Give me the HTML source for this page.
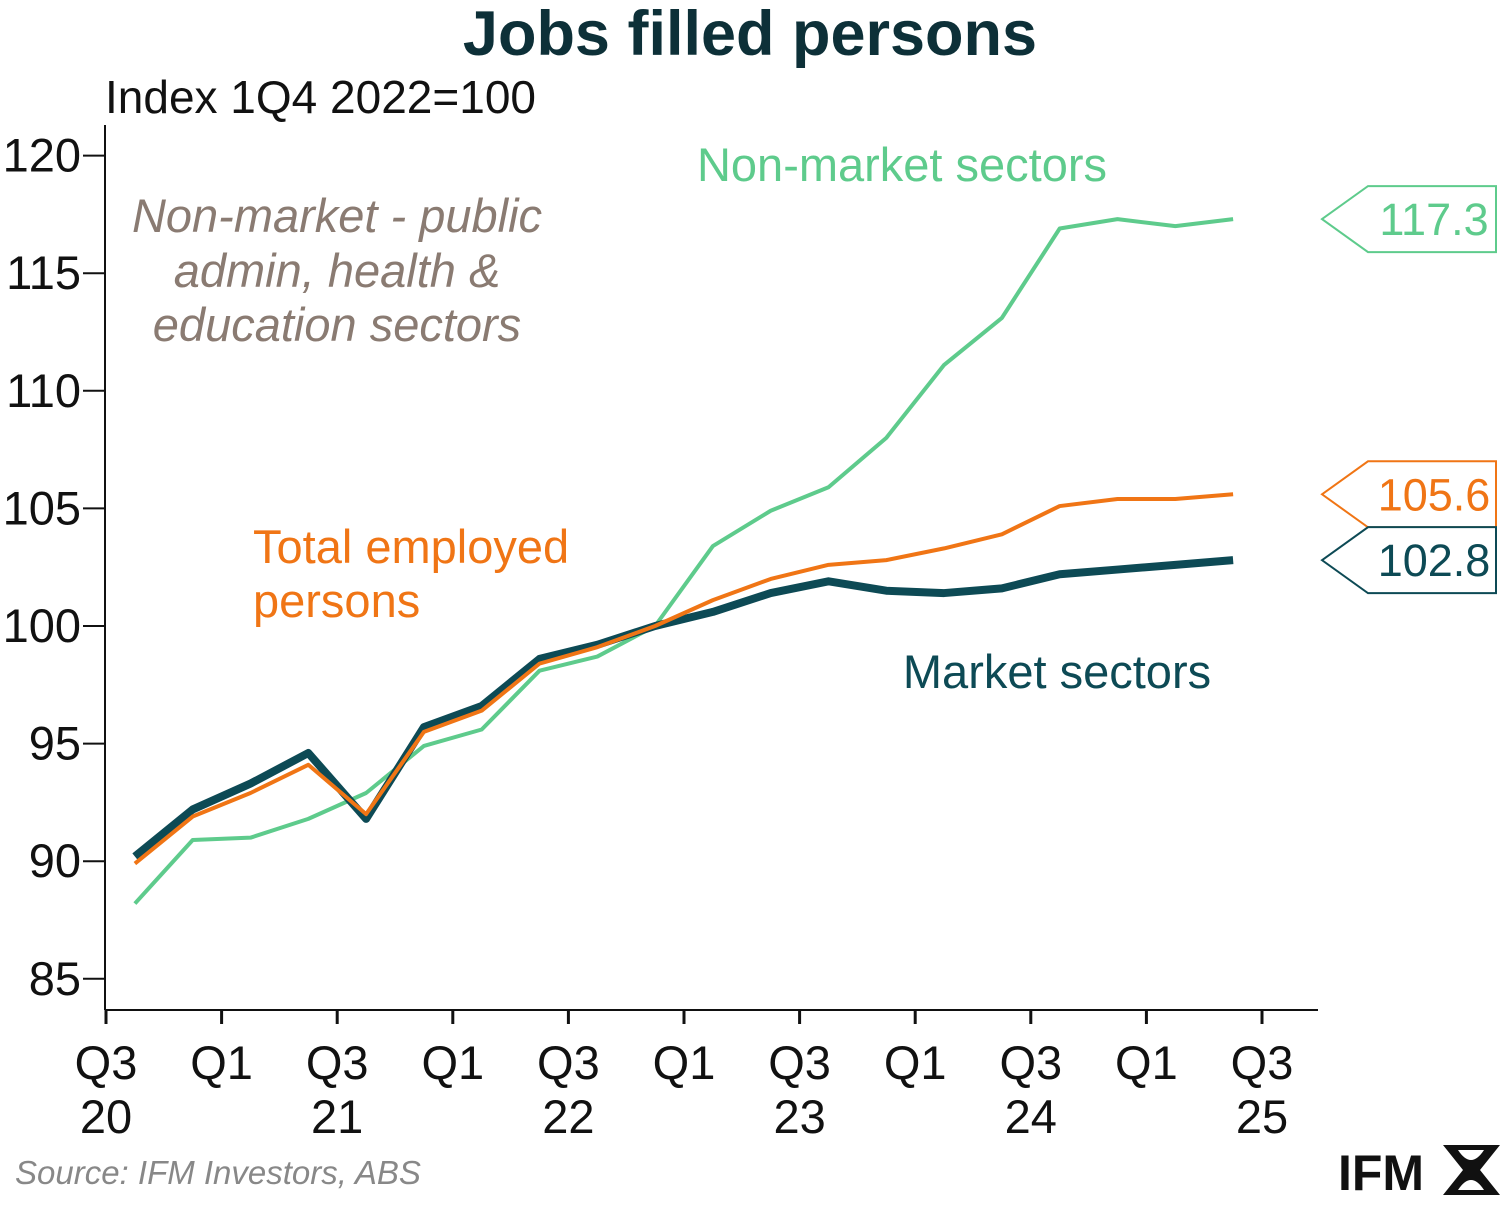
<!DOCTYPE html>
<html><head><meta charset="utf-8"><style>
body{margin:0;background:#fff;}
svg{display:block;font-family:"Liberation Sans",Arial,sans-serif;}
</style></head><body>
<svg width="1501" height="1205" viewBox="0 0 1501 1205" id="chart">
<text x="750" y="55" text-anchor="middle" font-size="63" font-weight="bold" fill="#0d3038">Jobs filled persons</text>
<text x="105" y="113" font-size="46" fill="#111">Index 1Q4 2022=100</text>
<g id="axes"></g>
<g id="series"></g>
<text x="902" y="181" text-anchor="middle" font-size="47" fill="#5ecb8c">Non-market sectors</text>
<g font-size="47" font-style="italic" fill="#8a7b72" text-anchor="middle">
<text x="337" y="232">Non-market - public</text>
<text x="337" y="287">admin, health &amp;</text>
<text x="337" y="341">education sectors</text></g>
<g font-size="47" fill="#f07515">
<text x="253" y="563">Total employed</text><text x="253" y="617">persons</text></g>
<text x="1057" y="688" text-anchor="middle" font-size="47" fill="#0d4a55">Market sectors</text>
<g id="callouts"></g>
<text x="15" y="1184" font-size="33" font-style="italic" fill="#888">Source: IFM Investors, ABS</text>
<g>
<text x="1338" y="1190" font-size="50" font-weight="bold" fill="#111">IFM</text>
<path d="M1443 1145 h57 l-20 25 l20 25 h-57 l20 -25 z" fill="#111"/>
<path d="M1458 1150 q13 20 26 0 z M1458 1190 q13 -20 26 0 z" fill="#fff"/>
</g>
</svg>
<script>
const quarters=["Q3 20","Q4 20","Q1 21","Q2 21","Q3 21","Q4 21","Q1 22","Q2 22","Q3 22","Q4 22","Q1 23","Q2 23","Q3 23","Q4 23","Q1 24","Q2 24","Q3 24","Q4 24","Q1 25","Q2 25"];
const marketSectors=[90.2,92.2,93.3,94.6,91.8,95.7,96.6,98.6,99.2,100,100.6,101.4,101.9,101.5,101.4,101.6,102.2,102.4,102.6,102.8];
const totalEmployed=[89.9,91.9,92.9,94.1,92.0,95.5,96.4,98.4,99.1,100,101.1,102.0,102.6,102.8,103.3,103.9,105.1,105.4,105.4,105.6];
const nonMarket=[88.2,90.9,91.0,91.8,92.9,94.9,95.6,98.1,98.7,100,103.4,104.9,105.9,108.0,111.1,113.1,116.9,117.3,117.0,117.3];
const yTicks=[85,90,95,100,105,110,115,120];
const xTickTop=["Q3","Q1","Q3","Q1","Q3","Q1","Q3","Q1","Q3","Q1","Q3"];
const xTickBottom=["20","","21","","22","","23","","24","","25"];
const NS="http://www.w3.org/2000/svg";
const y=v=>626-(v-100)*23.52;
const x=i=>106+57.8*(i+0.5);
const xt=j=>106+115.6*j;
function mk(tag,attrs,parent){const e=document.createElementNS(NS,tag);for(const k in attrs)e.setAttribute(k,attrs[k]);parent.appendChild(e);return e;}
const axes=document.getElementById('axes');
let a=mk('line',{x1:105,y1:125,x2:105,y2:1010,stroke:'#111','stroke-width':2},axes);


a=mk('line',{x1:105,y1:1010,x2:1318,y2:1010,stroke:'#111','stroke-width':2},axes);


yTicks.forEach(v=>{
 const t=mk('line',{x1:83,y1:y(v),x2:105,y2:y(v),stroke:'#111','stroke-width':2},axes);
 
 
 const l=mk('text',{x:81,y:y(v)+16,'text-anchor':'end','font-size':47,fill:'#111'},axes);
 l.textContent=v;
 
 
});
xTickTop.forEach((s,j)=>{
 const t=mk('line',{x1:xt(j),y1:1010,x2:xt(j),y2:1024,stroke:'#111','stroke-width':3},axes);
 
 
 const l=mk('text',{x:xt(j),y:1079,'text-anchor':'middle','font-size':47,fill:'#111'},axes);
 l.textContent=s;
 
 
 if(xTickBottom[j]){
  const l2=mk('text',{x:xt(j),y:1133,'text-anchor':'middle','font-size':47,fill:'#111'},axes);
  l2.textContent=xTickBottom[j];
  
  
 }
});
const series=document.getElementById('series');
function line(data,color,w,name){
 const p=mk('polyline',{points:data.map((v,i)=>x(i)+','+y(v)).join(' '),fill:'none',stroke:color,'stroke-width':w,'stroke-linejoin':'round'},series);
 
 
}
line(nonMarket,'#5ecb8c',4,'line-non-market');
line(marketSectors,'#0d4a55',8,'line-market');
line(totalEmployed,'#f07515',4,'line-total-employed');
const callouts=document.getElementById('callouts');
function callout(data,color,name){
 const v=data[data.length-1],cy=y(v);
 const p=mk('path',{d:`M1322 ${cy} L1368 ${cy-33} H1496 V${cy+33} H1368 Z`,fill:'#fff',stroke:color,'stroke-width':2},callouts);
 
 
 const t=mk('text',{x:1434,y:cy+16,'text-anchor':'middle','font-size':45,fill:color},callouts);
 t.textContent=v.toFixed(1);
 
 
}
callout(nonMarket,'#5ecb8c','callout-non-market');
callout(totalEmployed,'#f07515','callout-total');
callout(marketSectors,'#0d4a55','callout-market');
</script>
</body></html>
